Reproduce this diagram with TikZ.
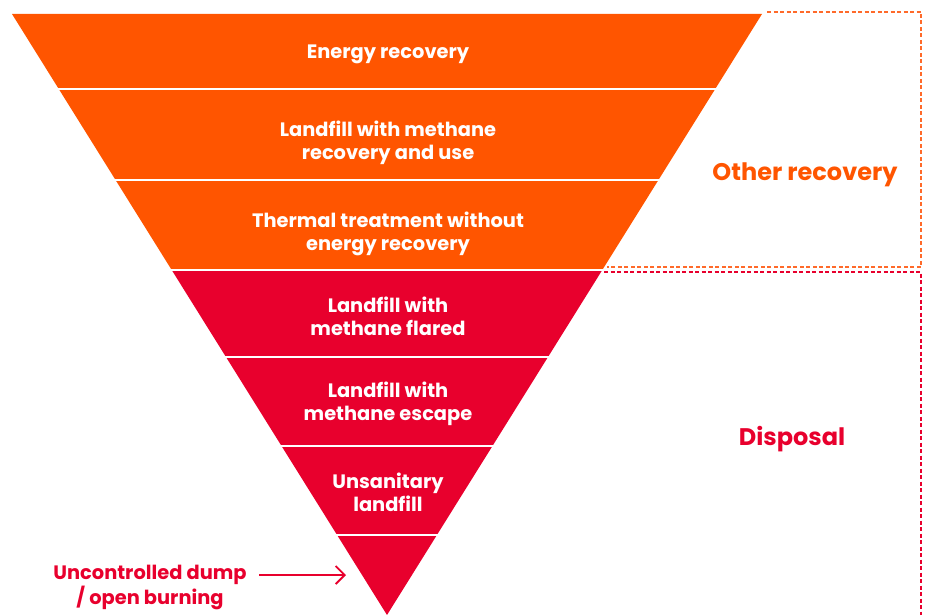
\documentclass[tikz,border=0pt]{standalone}
\usepackage{fontspec}
\setmainfont{Poppins}
\usetikzlibrary{arrows.meta}
\definecolor{orng}{HTML}{FF5500}
\definecolor{rd}{HTML}{E8002D}
\definecolor{orngdash}{HTML}{FF6A2A}
\begin{document}
\begin{tikzpicture}[x=1pt,y=-1pt,
  bandtext/.style={font=\bfseries\fontsize{19.4}{23}\selectfont, text=white, align=center},
  grouptext/.style={font=\bfseries\fontsize{24}{28}\selectfont, align=center},
  divider/.style={white, line width=2.6pt},
  groupbox/.style={dash pattern=on 4pt off 2.5pt, line width=1.1pt}]
\useasboundingbox (0,0) rectangle (927,615);
% bands
\fill[orng] (12,14) -- (762,14) -- (602.3,270) -- (171.7,270) -- cycle;
\fill[rd] (171.7,270) -- (602.3,270) -- (387,615) -- cycle;
\draw[divider] (56,89) -- (718,89);
\draw[divider] (113,180) -- (661,180);
\draw[divider] (169,270) -- (605,270);
\draw[divider] (223,357) -- (551,357);
\draw[divider] (279,446) -- (495,446);
\draw[divider] (334,535) -- (440,535);
% band labels
\node[bandtext] (b1) at (388,54.5) {Energy recovery};
\node[bandtext] (b2) at (388,142.5) {Landfill with methane\\recovery and use};
\node[bandtext] (b3) at (388,233.5) {Thermal treatment without\\energy recovery};
\node[bandtext] (b4) at (388,316.5) {Landfill with\\methane flared};
\node[bandtext] (b5) at (388,403.5) {Landfill with\\methane escape};
\node[bandtext] (b6) at (388,492.5) {Unsanitary\\landfill};
% group boxes
\draw[groupbox, orngdash] (767,12) -- (921,12) -- (921,267) -- (607,267);
\draw[groupbox, rd] (604,272) -- (921,272) -- (921,615);
\node[grouptext, text=orng] (g1) at (805,175) {Other recovery};
\node[grouptext, text=rd] (g2) at (792,439) {Disposal};
% bottom label and arrow
\node[bandtext, text=rd] (dump) at (150,587.5) {Uncontrolled dump\\/ open burning};
\coordinate (start) at (259,575);
\coordinate (tip) at (346,575);
\draw[rd, line width=1.8pt, -{Straight Barb[length=9pt,width=18pt]}] (start) -- (tip);
\end{tikzpicture}
\end{document}
